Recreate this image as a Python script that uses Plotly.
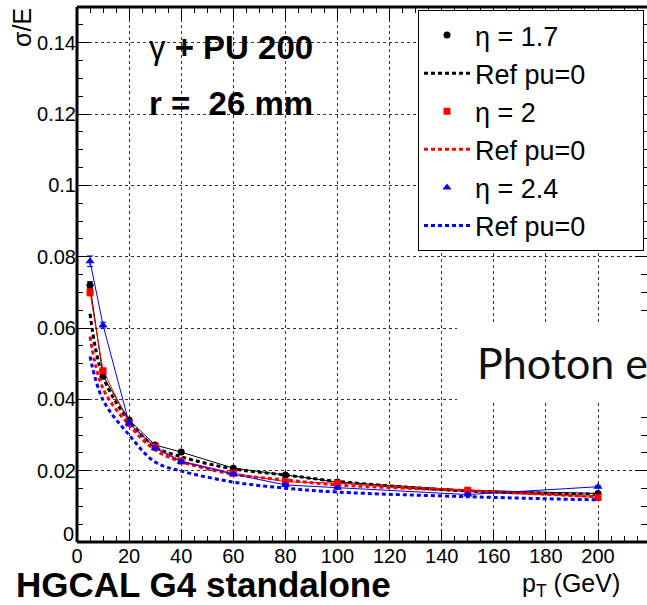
import plotly.graph_objects as go

pt = [5, 10, 20, 30, 40, 60, 80, 100, 150, 200]

eta17 = [0.072, 0.0465, 0.0342, 0.0272, 0.0252, 0.0207, 0.0188, 0.0168, 0.0145, 0.0136]
eta17_err = [0.0010, 0.0006, 0.0005, 0.0004, 0.0004, 0.0003, 0.0003, 0.0003, 0.0003, 0.0003]
eta20 = [0.070, 0.048, 0.0333, 0.0267, 0.0227, 0.0193, 0.0169, 0.0165, 0.0145, 0.0125]
eta20_err = [0.0010, 0.0006, 0.0005, 0.0004, 0.0004, 0.0003, 0.0003, 0.0003, 0.0003, 0.0003]
eta24 = [0.0787, 0.0608, 0.0333, 0.0263, 0.0225, 0.0190, 0.0160, 0.0152, 0.0133, 0.0155]
eta24_err = [0.0015, 0.0008, 0.0005, 0.0004, 0.0004, 0.0003, 0.0003, 0.0003, 0.0003, 0.0003]

ref17 = [0.064, 0.0463, 0.034, 0.0267, 0.0239, 0.0205, 0.0188, 0.0170, 0.0143, 0.0134]
ref20 = [0.0576, 0.043, 0.0328, 0.0258, 0.0225, 0.0190, 0.0174, 0.0160, 0.0144, 0.0127]
ref24 = [0.052, 0.0398, 0.030, 0.0224, 0.0199, 0.0168, 0.0151, 0.0140, 0.0127, 0.0118]

PAD = "\u00a0" * 7
legend_names = ["\u03b7 = 1.7", "Ref pu=0" + PAD, "\u03b7 = 2", "Ref pu=0" + PAD, "\u03b7 = 2.4", "Ref pu=0" + PAD]

xticks = [0, 20, 40, 60, 80, 100, 120, 140, 160, 180, 200]
yticks = [0.02, 0.04, 0.06, 0.08, 0.1, 0.12, 0.14]
ytick_labels = ["0.02", "0.04", "0.06", "0.08", "0.1", "0.12", "0.14"]

W, H = 647, 605
L, R, T, B = 77, 0, 7, 63
XMAX = 200 * (W - L - R) / (598 - L)
YMAX = 0.15

FONT = "Liberation Sans"
fig = go.Figure()

series = [
    (eta17, eta17_err, ref17, "black", "circle", 7),
    (eta20, eta20_err, ref20, "red", "square", 7),
    (eta24, eta24_err, ref24, "blue", "triangle-up", 8),
]

for i, (vals, errs, ref, col, sym, ms) in enumerate(series):
    fig.add_trace(go.Scatter(
        x=pt, y=ref, mode="lines", line=dict(color=col, width=3, dash="4px,3px", shape="spline"),
        name=legend_names[2 * i + 1], legendgroup=f"r{i}", legendrank=2 * i + 2, showlegend=True,
    ))
    fig.add_trace(go.Scatter(
        x=pt, y=vals, mode="lines", line=dict(color=col, width=1),
        showlegend=False, hoverinfo="skip",
    ))
    fig.add_trace(go.Scatter(
        x=pt, y=vals, mode="markers",
        marker=dict(color=col, symbol=sym, size=ms),
        error_y=dict(type="data", array=errs, color=col, thickness=1, width=3),
        name=legend_names[2 * i], legendgroup=f"m{i}", legendrank=2 * i + 1,
    ))

axis_common = dict(
    showline=False, ticks="inside", mirror="ticks", tickcolor="black",
    showgrid=True, gridcolor="#333333", griddash="dot", gridwidth=1,
    zeroline=False, tickfont=dict(family=FONT, size=20, color="black"),
)

fig.update_xaxes(
    range=[0, XMAX], tickvals=xticks, ticklen=12, tickwidth=1,
    minor=dict(dtick=5, ticklen=6, ticks="inside", tickcolor="black", showgrid=False),
    **axis_common,
)
fig.update_yaxes(
    range=[0, YMAX], tickvals=yticks, ticktext=ytick_labels, ticklen=12, tickwidth=1,
    minor=dict(dtick=0.005, ticklen=6, ticks="inside", tickcolor="black", showgrid=False),
    **axis_common,
)

shapes = [
    dict(type="rect", xref="paper", yref="paper",
         x0=(457 - L) / (W - L), x1=1.02, y0=(H - B - 402) / (H - T - B), y1=(H - B - 323) / (H - T - B),
         fillcolor="white", line=dict(width=0), layer="above"),
    dict(type="line", xref="paper", yref="paper", x0=0, x1=0, y0=0, y1=1, line=dict(color="black", width=3)),
    dict(type="line", xref="paper", yref="paper", x0=0, x1=1, y0=0, y1=0, line=dict(color="black", width=3)),
    dict(type="line", xref="paper", yref="paper", x0=0, x1=1, y0=1, y1=1, line=dict(color="black", width=3)),
]

def px2paper(x, y):
    return (x - L) / (W - L - R), (H - B - y) / (H - T - B)

def ann(text, px, py, size, family=FONT, xanchor="left", angle=0, color="black"):
    ax, ay = px2paper(px, py)
    return dict(text=text, x=ax, y=ay, xref="paper", yref="paper",
                xanchor=xanchor, yanchor="middle", showarrow=False, textangle=angle,
                font=dict(family=family, size=size, color=color))

annotations = [
    ann("\u03b3 <b>+ PU 200</b>", 147, 47, 33),
    ann("<b>r =  26 mm</b>", 147, 104, 33),
    ann("Photon e", 475, 362, 43, family="Lato", color="#111111"),
    ann("\u03c3/E", 22, 28, 25, xanchor="center", angle=-90),
    ann("p<sub>T</sub> (GeV)", 520, 585, 25),
    ann("<b>HGCAL G4 standalone</b>", 14, 584, 35),
    ann("0", 68, 534, 20, xanchor="center"),
]

lx, ly = px2paper(418, 10)
fig.update_layout(
    width=W, height=H,
    margin=dict(l=L, r=R, t=T, b=B, pad=0),
    paper_bgcolor="white", plot_bgcolor="white",
    shapes=shapes, annotations=annotations,
    legend=dict(x=lx, y=ly, xanchor="left", yanchor="top",
                bgcolor="white", bordercolor="black", borderwidth=1,
                font=dict(family=FONT, size=27, color="black"),
                tracegroupgap=2, itemwidth=46, traceorder="normal"),
    showlegend=True,
)

fig.write_html("out.html")
